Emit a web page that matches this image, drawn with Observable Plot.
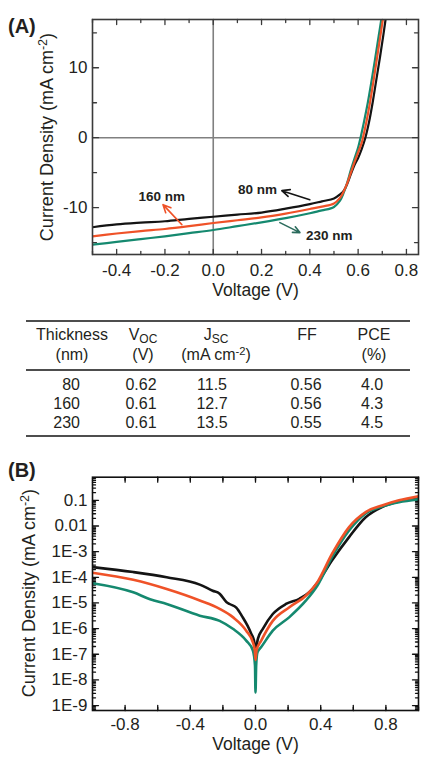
<!DOCTYPE html>
<html><head><meta charset="utf-8">
<script src="https://cdn.jsdelivr.net/npm/d3@7"></script>
<script src="https://cdn.jsdelivr.net/npm/@observablehq/plot@0.6"></script>
<style>
body{margin:0;background:#fff;}
#root{position:relative;width:422px;height:760px;overflow:hidden;font-family:"Liberation Sans",Arial,Helvetica,sans-serif;color:#231f20;}
.abs{position:absolute;white-space:nowrap;line-height:1;}
.abs sub{font-size:0.75em;vertical-align:-0.28em;line-height:0;}
.abs sup{font-size:0.7em;vertical-align:0.45em;line-height:0;}
.rule{position:absolute;height:2px;background:#4d4d4d;}
svg{position:absolute;left:0;}
</style></head><body><div id="root"></div>
<script>
// ---------------- DATA ----------------
const seriesNames = ["80 nm", "160 nm", "230 nm"];
// Panel A: J-V curves [Voltage (V), Current density (mA cm-2)]
const jvA80 = [[-0.5,-12.8],[-0.4,-12.4],[-0.3,-12.15],[-0.2,-11.95],[-0.1,-11.6],[0,-11.3],[0.1,-11.0],[0.2,-10.7],[0.3,-10.15],[0.4,-9.5],[0.45,-9.1],[0.5,-8.7],[0.525,-8.1],[0.54,-7.6],[0.555,-6.6],[0.57,-5.2],[0.585,-3.9],[0.6,-2.9],[0.615,-1.6],[0.63,0],[0.645,2.2],[0.66,5],[0.675,8.2],[0.69,11.4],[0.705,14.8],[0.72,18.5]];
const jvA160 = [[-0.5,-14.1],[-0.4,-13.7],[-0.3,-13.35],[-0.2,-13.05],[-0.1,-12.65],[0,-12.2],[0.1,-11.8],[0.2,-11.4],[0.3,-10.85],[0.4,-10.2],[0.45,-9.85],[0.5,-9.4],[0.525,-8.6],[0.54,-7.7],[0.555,-6.5],[0.57,-5.0],[0.585,-3.5],[0.6,-2.1],[0.615,-0.7],[0.62,0],[0.635,2.4],[0.65,5.2],[0.665,8.4],[0.68,11.8],[0.695,15.2],[0.71,18.6]];
const jvA230 = [[-0.5,-15.3],[-0.4,-14.9],[-0.3,-14.5],[-0.2,-14.1],[-0.1,-13.65],[0,-13.2],[0.1,-12.65],[0.2,-12.1],[0.3,-11.5],[0.4,-10.8],[0.45,-10.4],[0.5,-9.9],[0.525,-9.0],[0.54,-7.9],[0.555,-6.4],[0.57,-4.6],[0.585,-3.0],[0.6,-1.4],[0.61,0],[0.625,2.4],[0.64,5.0],[0.655,8],[0.67,11.2],[0.685,14.5],[0.7,17.8]];
// Panel B: dark J-V curves [Voltage (V), |J| (mA cm-2)]
const jvB80 = [[-1.0,2.5e-4],[-0.75,1.6e-4],[-0.545,1.0e-4],[-0.342,5.2e-5],[-0.263,3.0e-5],[-0.22,2.3e-5],[-0.179,1.1e-5],[-0.159,9.1e-6],[-0.118,6.6e-6],[-0.079,2.8e-6],[-0.049,1.3e-6],[-0.026,6.3e-7],[-0.009,3.4e-7],[0,1.6e-7],[0.015,4.1e-7],[0.045,9.8e-7],[0.106,3.7e-6],[0.187,9.1e-6],[0.269,1.45e-5],[0.33,2.6e-5],[0.39,7.5e-5],[0.47,4.6e-4],[0.574,3.7e-3],[0.676,0.022],[0.776,0.055],[0.88,0.091],[1.0,0.13]];
const jvB160 = [[-1.0,1.5e-4],[-0.75,8e-5],[-0.545,3.5e-5],[-0.342,1.25e-5],[-0.22,5.9e-6],[-0.139,2.8e-6],[-0.057,8.3e-7],[-0.016,2.9e-7],[-0.004,1.4e-7],[0,6e-8],[0.006,1.4e-7],[0.035,3.4e-7],[0.106,2.0e-6],[0.208,6.8e-6],[0.31,1.95e-5],[0.38,6.5e-5],[0.47,8.3e-4],[0.574,9.1e-3],[0.676,0.035],[0.776,0.063],[0.88,0.1],[1.0,0.145]];
const jvB230 = [[-1.0,5.9e-5],[-0.75,2.6e-5],[-0.647,1.4e-5],[-0.545,9.1e-6],[-0.342,3.2e-6],[-0.22,2.0e-6],[-0.139,9.8e-7],[-0.057,3.4e-7],[-0.016,1.4e-7],[-0.003,3.6e-8],[0,3.2e-9],[0.004,3.6e-8],[0.012,1.2e-7],[0.035,1.9e-7],[0.106,8.3e-7],[0.208,2.8e-6],[0.31,1.25e-5],[0.38,4.8e-5],[0.47,6.2e-4],[0.574,6.7e-3],[0.676,0.031],[0.776,0.058],[0.88,0.085],[1.0,0.11]];
// Annotations in panel A (data coordinates)
const annLabels = [{t:"80 nm", v:0.183, j:-7.46}, {t:"160 nm", v:-0.213, j:-8.43}, {t:"230 nm", v:0.48, j:-14.07}];
const annArrows = [{v1:0.40, j1:-8.86, v2:0.284, j2:-7.57}, {v1:-0.13, j1:-12.43, v2:-0.208, j2:-9.57}, {v1:0.276, j1:-12.14, v2:0.359, j2:-13.57}];
// Axis ticks
const xTickLabelsA = [-0.4, -0.2, 0, 0.2, 0.4, 0.6, 0.8];
const yTickLabelsA = [-10, 0, 10];
const xTickLabelsB = [-0.8, -0.4, 0, 0.4, 0.8];
const yTickLabelsB = [0.1, 0.01, 1e-3, 1e-4, 1e-5, 1e-6, 1e-7, 1e-8, 1e-9];
// Table
const tableHead1 = ["Thickness", "V<sub>OC</sub>", "J<sub>SC</sub>", "FF", "PCE"];
const tableHead2 = ["(nm)", "(V)", "(mA cm<sup>-2</sup>)", "", "(%)"];
const thickness = [80, 160, 230];
const voc = [0.62, 0.61, 0.61];
const jsc = [11.5, 12.7, 13.5];
const ff = [0.56, 0.56, 0.55];
const pce = [4.0, 4.3, 4.5];

// ---------------- STYLE / LAYOUT ----------------
const colors = ["#141414", "#ef5228", "#15896f"];
const arrowColors = ["#141414", "#ef5228", "#2b6b5c"];
const font = '"Liberation Sans", Arial, Helvetica, sans-serif';
const root = document.getElementById("root");
const tickShape = {draw(ctx, l) { ctx.moveTo(0, 0); ctx.lineTo(0, -l); }};
function ticksX(values, len, color) {
  return [
    Plot.vectorX(values, {x: d => d, frameAnchor: "bottom", anchor: "start", rotate: 0, length: len, shape: tickShape, stroke: color, strokeWidth: 1.3}),
    Plot.vectorX(values, {x: d => d, frameAnchor: "top", anchor: "start", rotate: 180, length: len, shape: tickShape, stroke: color, strokeWidth: 1.3})
  ];
}
function ticksY(values, len, color) {
  return [
    Plot.vectorY(values, {y: d => d, frameAnchor: "left", anchor: "start", rotate: 90, length: len, shape: tickShape, stroke: color, strokeWidth: 1.3}),
    Plot.vectorY(values, {y: d => d, frameAnchor: "right", anchor: "start", rotate: -90, length: len, shape: tickShape, stroke: color, strokeWidth: 1.3})
  ];
}
const range = (a, b, s) => d3.range(Math.round(a / s), Math.round(b / s) + 1).map(k => +(k * s).toFixed(6));

// ---------------- PANEL A ----------------
const frameA = "#3a3a3a";
const xMajA = range(-0.4, 0.8, 0.2);
const xMinA = range(-0.5, 0.8, 0.1).filter(v => !xMajA.some(m => Math.abs(m - v) < 1e-6));
const yMajA = [-10, 0, 10];
const yMinA = [-15, -5, 5, 15];
const plotA = Plot.plot({
  width: 422, height: 305,
  marginTop: 19, marginBottom: 51, marginLeft: 92, marginRight: 4,
  x: {domain: [-0.5, 0.85]},
  y: {domain: [-16.7, 16.9]},
  style: {fontFamily: font, fontSize: "17px", color: "#231f20", background: "transparent"},
  marks: [
    Plot.ruleX([0], {stroke: "#808080", strokeWidth: 1.6}),
    Plot.ruleY([0], {stroke: "#808080", strokeWidth: 1.6}),
    ...ticksX(xMajA, 5, frameA), ...ticksX(xMinA, 3, frameA),
    ...ticksY(yMajA, 6, frameA), ...ticksY(yMinA, 4, frameA),
    Plot.line(jvA80, {x: d => d[0], y: d => d[1], stroke: colors[0], strokeWidth: 2.2, clip: true, curve: "catmull-rom"}),
    Plot.line(jvA230, {x: d => d[0], y: d => d[1], stroke: colors[2], strokeWidth: 2.2, clip: true, curve: "catmull-rom"}),
    Plot.line(jvA160, {x: d => d[0], y: d => d[1], stroke: colors[1], strokeWidth: 2.2, clip: true, curve: "catmull-rom"}),
    Plot.frame({stroke: frameA, strokeWidth: 1.6}),
    Plot.axisX({ticks: xTickLabelsA, tickSize: 0, tickPadding: 9.5, tickFormat: d => d.toFixed(1), label: null}),
    Plot.axisY({ticks: yTickLabelsA, tickSize: 0, tickPadding: 5, tickFormat: d => String(d), label: null}),
    Plot.text(["Voltage (V)"], {frameAnchor: "bottom", dy: 41.5, fontSize: 17.5}),
    Plot.arrow(annArrows, {x1: "v1", y1: "j1", x2: "v2", y2: "j2", stroke: (d, i) => arrowColors[i], strokeWidth: 1.6, headLength: 8, headAngle: 50}),
    Plot.text(annLabels, {x: "v", y: "j", text: "t", fontWeight: "bold", fontSize: 13.5, fill: "#231f20"})
  ]
});
plotA.style.top = "0px";
root.appendChild(plotA);

// ---------------- PANEL B ----------------
const frameB = "#111";
const xMajB = range(-0.8, 0.8, 0.2);
const xMinB = range(-0.9, 0.9, 0.2);
const yMajB = d3.range(-9, 0).map(e => Math.pow(10, e));
const yMinB = [];
for (let e = -10; e <= -1; e++) for (let k = 2; k <= 9; k++) { const v = k * Math.pow(10, e); if (v > 6.4e-10 && v < 0.8) yMinB.push(v); }
const fmtLog = d => d >= 0.1 ? "0.1" : d >= 0.01 ? "0.01" : "1E" + Math.round(Math.log10(d));
const plotB = Plot.plot({
  width: 422, height: 315,
  marginTop: 31.7, marginBottom: 50, marginLeft: 92, marginRight: 4,
  x: {domain: [-1, 1]},
  y: {type: "log", domain: [6.4e-10, 0.8]},
  style: {fontFamily: font, fontSize: "17px", color: "#231f20", background: "transparent"},
  marks: [
    ...ticksX(xMajB, 5, frameB), ...ticksX(xMinB, 3, frameB),
    ...ticksY(yMajB, 6, frameB), ...ticksY(yMinB, 3, frameB),
    Plot.line(jvB80, {x: d => d[0], y: d => d[1], stroke: colors[0], strokeWidth: 2.6, clip: true, curve: "monotone-x"}),
    Plot.line(jvB230, {x: d => d[0], y: d => d[1], stroke: colors[2], strokeWidth: 2.6, clip: true, curve: "monotone-x"}),
    Plot.line(jvB160, {x: d => d[0], y: d => d[1], stroke: colors[1], strokeWidth: 2.6, clip: true, curve: "monotone-x"}),
    Plot.frame({stroke: frameB, strokeWidth: 1.6}),
    Plot.axisX({ticks: xTickLabelsB, tickSize: 0, tickPadding: 7.5, tickFormat: d => d.toFixed(1), label: null}),
    Plot.axisY({ticks: yTickLabelsB, tickSize: 0, tickPadding: 5, tickFormat: fmtLog, label: null}),
    Plot.text(["Voltage (V)"], {frameAnchor: "bottom", dy: 39.5, fontSize: 17.5})
  ]
});
plotB.style.top = "445px";
root.appendChild(plotB);

// ---------------- HTML TEXT (panel letters, y titles, table) ----------------
function addText(html, left, cy, fs, opts = {}) {
  const el = document.createElement("div");
  el.className = "abs";
  el.innerHTML = html;
  el.style.fontSize = fs + "px";
  el.style.left = left + "px";
  el.style.top = (cy - 0.49 * fs) + "px";
  if (opts.bold) el.style.fontWeight = "bold";
  if (opts.align === "center") el.style.transform = "translateX(-50%)";
  if (opts.align === "right") el.style.transform = "translateX(-100%)";
  root.appendChild(el);
  return el;
}
function addRotated(html, cx, cy, fs) {
  const el = document.createElement("div");
  el.className = "abs";
  el.style.lineHeight = "normal";
  el.innerHTML = html;
  el.style.fontSize = fs + "px";
  el.style.left = cx + "px";
  el.style.top = cy + "px";
  el.style.transform = "translate(-50%,-50%) rotate(-90deg)";
  root.appendChild(el);
}
addText("(A)", 8, 25.5, 20, {bold: true});
addText("(B)", 8, 470, 20, {bold: true});
const yTitle = "Current Density (mA cm<sup>-2</sup>)";
addRotated(yTitle, 46.7, 136.5, 18);
addRotated(yTitle, 28.8, 593.4, 18);

// table
const headCenters = [72, 143, 216, 307, 374];
const dataCenters = [null, 141, 212, 306, 372];
const tfs = 16;
[321, 370, 436].forEach(y => {
  const r = document.createElement("div");
  r.className = "rule"; r.style.left = "26px"; r.style.width = "384px"; r.style.top = (y - 1) + "px";
  root.appendChild(r);
});
tableHead1.forEach((h, i) => addText(h, headCenters[i], 335, tfs, {align: "center"}));
tableHead2.forEach((h, i) => { if (h) addText(h, headCenters[i], 355, tfs, {align: "center"}); });
const rowY = [385, 404, 423];
thickness.forEach((t, r) => {
  addText(String(t), 80, rowY[r], tfs, {align: "right"});
  addText(voc[r].toFixed(2), dataCenters[1], rowY[r], tfs, {align: "center"});
  addText(jsc[r].toFixed(1), dataCenters[2], rowY[r], tfs, {align: "center"});
  addText(ff[r].toFixed(2), dataCenters[3], rowY[r], tfs, {align: "center"});
  addText(pce[r].toFixed(1), dataCenters[4], rowY[r], tfs, {align: "center"});
});
</script></body></html>
